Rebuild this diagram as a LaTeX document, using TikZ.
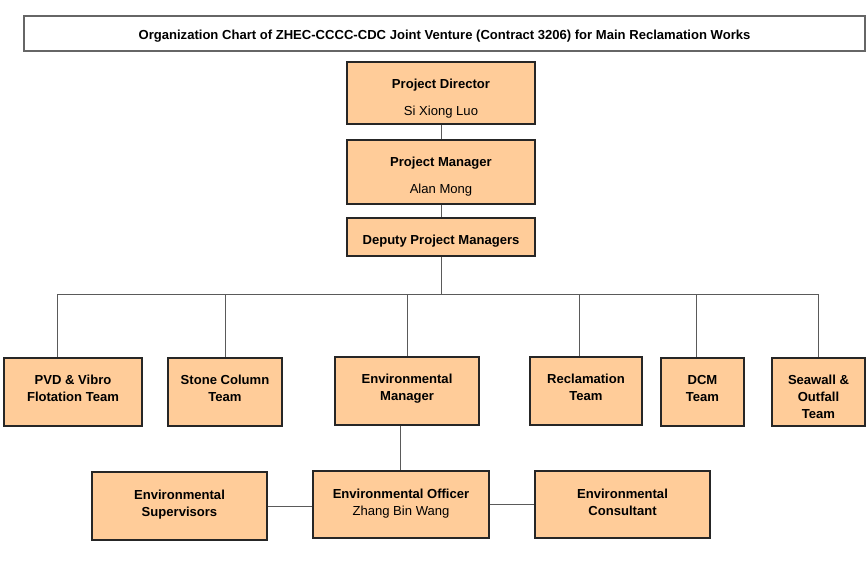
\documentclass[tikz,border=0pt]{standalone}
\usepackage{fontspec}
\setmainfont{Liberation Sans}
\usetikzlibrary{fit}
\definecolor{peach}{RGB}{255,204,153}
\definecolor{conn}{RGB}{90,90,90}
\tikzset{
  box/.style={draw=black!85, fill=peach, line width=0.8pt, inner sep=0pt},
  titlebox/.style={draw=black!60, fill=white, line width=0.8pt, inner sep=0pt},
  txt/.style={anchor=north, inner sep=0pt, align=center, font=\fontsize{9.8}{12.75}\selectfont\bfseries},
  link/.style={draw=conn, line width=0.75pt},
}
\newcommand{\nm}[1]{\mdseries #1}
\begin{document}
\begin{tikzpicture}[x=0.75pt, y=-0.75pt]
\useasboundingbox (0,0) rectangle (868,572);
% title
\node[titlebox, fit={(24,16)(865,51)}] (title) {};
\node[inner sep=0pt, font=\fontsize{9.8}{12}\selectfont\bfseries] (titlet) at ([yshift=-2.2pt]title.center) {Organization Chart of ZHEC-CCCC-CDC Joint Venture (Contract 3206) for Main Reclamation Works};
% top chain
\node[box, fit={(347,62)(535,124)}] (pd) {};
\node[txt, align=center, font=\fontsize{9.8}{20}\selectfont\bfseries] (pdt) at ([yshift=-17.5*0.75pt]pd.north) {Project Director\\\nm{Si Xiong Luo}};
\node[box, fit={(347,140)(535,204)}] (pm) {};
\node[txt, font=\fontsize{9.8}{20}\selectfont\bfseries] (pmt) at ([yshift=-17.5*0.75pt]pm.north) {Project Manager\\\nm{Alan Mong}};
\node[box, fit={(347,218)(535,256)}] (dpm) {};
\node[inner sep=0pt, font=\fontsize{9.8}{12}\selectfont\bfseries] (dpmt) at ([yshift=-3pt]dpm.center) {Deputy Project Managers};
% teams
\node[box, fit={(4,358)(142,426)}] (pvd) {};
\node[txt] (pvdt) at ([yshift=-17.5*0.75pt]pvd.north) {PVD \& Vibro\\Flotation Team};
\node[box, fit={(168,358)(282,426)}] (sc) {};
\node[txt] (sct) at ([yshift=-17.5*0.75pt]sc.north) {Stone Column\\Team};
\node[box, fit={(335,357)(479,425)}] (em) {};
\node[txt] (emt) at ([yshift=-17.5*0.75pt]em.north) {Environmental\\Manager};
\node[box, fit={(530,357)(642,425)}] (rec) {};
\node[txt] (rect) at ([yshift=-17.5*0.75pt]rec.north) {Reclamation\\Team};
\node[box, fit={(661,358)(744,426)}] (dcm) {};
\node[txt] (dcmt) at ([yshift=-17.5*0.75pt]dcm.north) {DCM\\Team};
\node[box, fit={(772,358)(865,426)}] (sw) {};
\node[txt] (swt) at ([yshift=-17.5*0.75pt]sw.north) {Seawall \&\\Outfall\\Team};
% bottom row
\node[box, fit={(92,472)(267,540)}] (es) {};
\node[txt] (est) at ([yshift=-18.5*0.75pt]es.north) {Environmental\\Supervisors};
\node[box, fit={(313,471)(489,538)}] (eo) {};
\node[txt] (eot) at ([yshift=-18.5*0.75pt]eo.north) {Environmental Officer\\\nm{Zhang Bin Wang}};
\node[box, fit={(535,471)(710,538)}] (ec) {};
\node[txt] (ect) at ([yshift=-18.5*0.75pt]ec.north) {Environmental\\Consultant};
% connectors
\coordinate (bL) at (57,294);
\coordinate (bR) at (818,294);
\coordinate (b2) at (225,294);
\coordinate (b3) at (407,294);
\coordinate (b4) at (579,294);
\coordinate (b5) at (696,294);
\coordinate (emx) at (400,294);
\draw[link] (pd.south) -- (pm.north);
\draw[link] (pm.south) -- (dpm.north);
\draw[link] (dpm.south) -- (dpm.south |- bL);
\draw[link] (bL) -- (bR);
\draw[link] (bL) -- (bL |- pvd.north);
\draw[link] (b2) -- (b2 |- sc.north);
\draw[link] (b3) -- (b3 |- em.north);
\draw[link] (b4) -- (b4 |- rec.north);
\draw[link] (b5) -- (b5 |- dcm.north);
\draw[link] (bR) -- (bR |- sw.north);
\draw[link] (emx |- em.south) -- (emx |- eo.north);
\draw[link] (es.east) -- (es.east -| eo.west);
\draw[link] (eo.east) -- (ec.west);
\end{tikzpicture}
\end{document}
